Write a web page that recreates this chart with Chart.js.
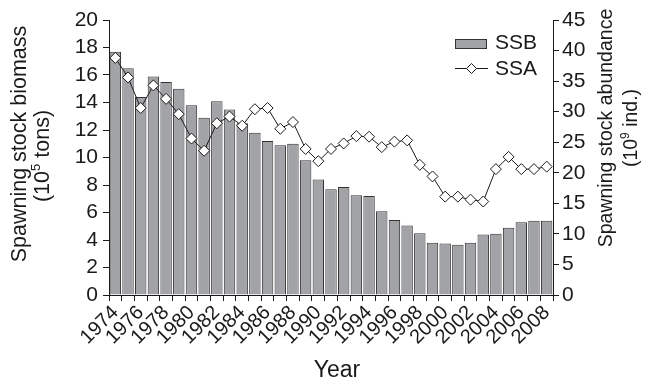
<!DOCTYPE html>
<html>
<head>
<meta charset="utf-8">
<script src="https://cdn.jsdelivr.net/npm/chart.js@4.4.1/dist/chart.umd.min.js"></script>
<style>
  html, body { margin: 0; padding: 0; background: #fff; }
  #c { display: block; }
</style>
</head>
<body>
<canvas id="c" width="655" height="384"></canvas>
<script>
// Years of the survey
const years = ['1974','1975','1976','1977','1978','1979','1980','1981','1982','1983',
               '1984','1985','1986','1987','1988','1989','1990','1991','1992','1993',
               '1994','1995','1996','1997','1998','1999','2000','2001','2002','2003',
               '2004','2005','2006','2007','2008'];

// Spawning stock biomass, 10^5 tons (bars, left axis)
const ssb = [17.7, 16.5, 14.4, 15.9, 15.5, 15.0, 13.8, 12.9, 14.1, 13.5,
             12.5, 11.8, 11.2, 10.9, 11.0, 9.8, 8.4, 7.7, 7.85, 7.25,
             7.2, 6.1, 5.45, 5.05, 4.5, 3.8, 3.75, 3.65, 3.8, 4.4,
             4.45, 4.9, 5.3, 5.4, 5.4];

// Spawning stock abundance, 10^9 individuals (line, right axis)
const ssa = [38.8, 35.6, 30.6, 34.3, 32.1, 29.6, 25.6, 23.6, 28.1, 29.2,
             27.7, 30.4, 30.6, 27.2, 28.3, 23.9, 21.9, 23.9, 24.8, 26.0,
             25.9, 24.2, 25.1, 25.3, 21.3, 19.4, 16.1, 16.1, 15.6, 15.3,
             20.6, 22.6, 20.6, 20.6, 21.0];

// Axis tick ranges
const leftTicks = { min: 0, max: 20, step: 2 };
const rightTicks = { min: 0, max: 45, step: 5 };

const FONT = '"Liberation Sans", Arial, Helvetica, sans-serif';
const INK = '#1a1a1a';
const BAR_FILL = '#a2a3a7';
const BAR_EDGE = '#333333';

// Draws a line of text with optional superscript parts, centred on (0, 0)
function drawRich(ctx, parts, size) {
  const supSize = Math.round(size * 0.6);
  let total = 0;
  const widths = parts.map(p => {
    ctx.font = (p.sup ? supSize : size) + 'px ' + FONT;
    const w = ctx.measureText(p.t).width;
    total += w;
    return w;
  });
  let x = -total / 2;
  parts.forEach((p, i) => {
    ctx.font = (p.sup ? supSize : size) + 'px ' + FONT;
    ctx.fillText(p.t, x, p.sup ? -size * 0.3 : 0);
    x += widths[i];
  });
}

function drawVertical(ctx, cx, cy, parts, size) {
  ctx.save();
  ctx.translate(cx, cy);
  ctx.rotate(-Math.PI / 2);
  ctx.textAlign = 'left';
  ctx.textBaseline = 'middle';
  drawRich(ctx, parts, size);
  ctx.restore();
}

// Axis titles and the in-plot legend
const annotations = {
  id: 'annotations',
  afterDraw(chart) {
    const ctx = chart.ctx;
    const area = chart.chartArea;
    ctx.save();
    ctx.fillStyle = INK;

    // Left axis title
    drawVertical(ctx, 20, 144, [{ t: 'Spawning stock biomass' }], 21.5);
    drawVertical(ctx, 43, 156, [{ t: '(10' }, { t: '5', sup: true }, { t: ' tons)' }], 21.5);

    // Right axis title
    drawVertical(ctx, 607, 128, [{ t: 'Spawning stock abundance' }], 19.5);
    drawVertical(ctx, 632, 128, [{ t: '(10' }, { t: '9', sup: true }, { t: ' ind.)' }], 19.5);

    // X axis title
    ctx.font = '23px ' + FONT;
    ctx.textAlign = 'center';
    ctx.textBaseline = 'middle';
    ctx.fillText('Year', (area.left + area.right) / 2 + 6, 371);

    // Legend
    const barDs = chart.data.datasets[1];
    const lineDs = chart.data.datasets[0];
    const lx = 455, lw = 32;
    ctx.fillStyle = barDs.backgroundColor;
    ctx.fillRect(lx, 39, lw, 10);
    ctx.strokeStyle = barDs.borderColor;
    ctx.lineWidth = 1;
    ctx.strokeRect(lx + 0.5, 39.5, lw - 1, 9);

    ctx.strokeStyle = lineDs.borderColor;
    ctx.beginPath();
    ctx.moveTo(lx, 68.5);
    ctx.lineTo(lx + lw + 1, 68.5);
    ctx.stroke();
    const dx = lx + lw / 2 + 0.5, dy = 68.5, r = 5;
    ctx.beginPath();
    ctx.moveTo(dx - r, dy);
    ctx.lineTo(dx, dy - r);
    ctx.lineTo(dx + r, dy);
    ctx.lineTo(dx, dy + r);
    ctx.closePath();
    ctx.fillStyle = '#fff';
    ctx.fill();
    ctx.stroke();

    ctx.fillStyle = INK;
    ctx.font = '21px ' + FONT;
    ctx.textAlign = 'left';
    ctx.textBaseline = 'middle';
    ctx.fillText(barDs.label, 495, 43);
    ctx.fillText(lineDs.label, 495, 69);
    ctx.restore();
  }
};

const axisGrid = { drawOnChartArea: false, tickLength: 6, color: INK, lineWidth: 1 };
const axisBorder = { display: true, color: INK, width: 1 };

new Chart(document.getElementById('c'), {
  data: {
    labels: years,
    datasets: [
      {
        type: 'line',
        label: 'SSA',
        data: ssa,
        yAxisID: 'y2',
        borderColor: INK,
        borderWidth: 1,
        tension: 0,
        pointStyle: 'rectRot',
        pointRadius: 5.5,
        pointBackgroundColor: '#fff',
        pointBorderColor: INK,
        pointBorderWidth: 1,
        order: 0
      },
      {
        type: 'bar',
        label: 'SSB',
        data: ssb,
        yAxisID: 'y',
        backgroundColor: BAR_FILL,
        borderColor: BAR_EDGE,
        borderWidth: 1,
        barPercentage: 0.9,
        categoryPercentage: 1,
        order: 1
      }
    ]
  },
  options: {
    responsive: false,
    animation: false,
    devicePixelRatio: 1,
    layout: { padding: { top: 20, right: 0, bottom: 0, left: 0 } },
    plugins: { legend: { display: false }, tooltip: { enabled: false } },
    scales: {
      x: {
        offset: true,
        grid: Object.assign({}, axisGrid, { offset: true }),
        border: axisBorder,
        ticks: {
          autoSkip: false,
          minRotation: 45,
          maxRotation: 45,
          padding: 0,
          color: INK,
          font: { family: FONT, size: 20 },
          callback(value, index) { return index % 2 === 0 ? this.getLabelForValue(value) : ''; }
        },
        afterFit(scale) { scale.height = 89; }
      },
      y: {
        position: 'left',
        min: leftTicks.min,
        max: leftTicks.max,
        grid: axisGrid,
        border: axisBorder,
        ticks: { stepSize: leftTicks.step, autoSkip: false, padding: 5, color: INK, font: { family: FONT, size: 21 } },
        afterFit(scale) { scale.width = 109; }
      },
      y2: {
        position: 'right',
        min: rightTicks.min,
        max: rightTicks.max,
        grid: axisGrid,
        border: axisBorder,
        ticks: { stepSize: rightTicks.step, autoSkip: false, padding: 3, color: INK, font: { family: FONT, size: 21 } },
        afterFit(scale) { scale.width = 102; }
      }
    }
  },
  plugins: [annotations]
});
</script>
</body>
</html>
